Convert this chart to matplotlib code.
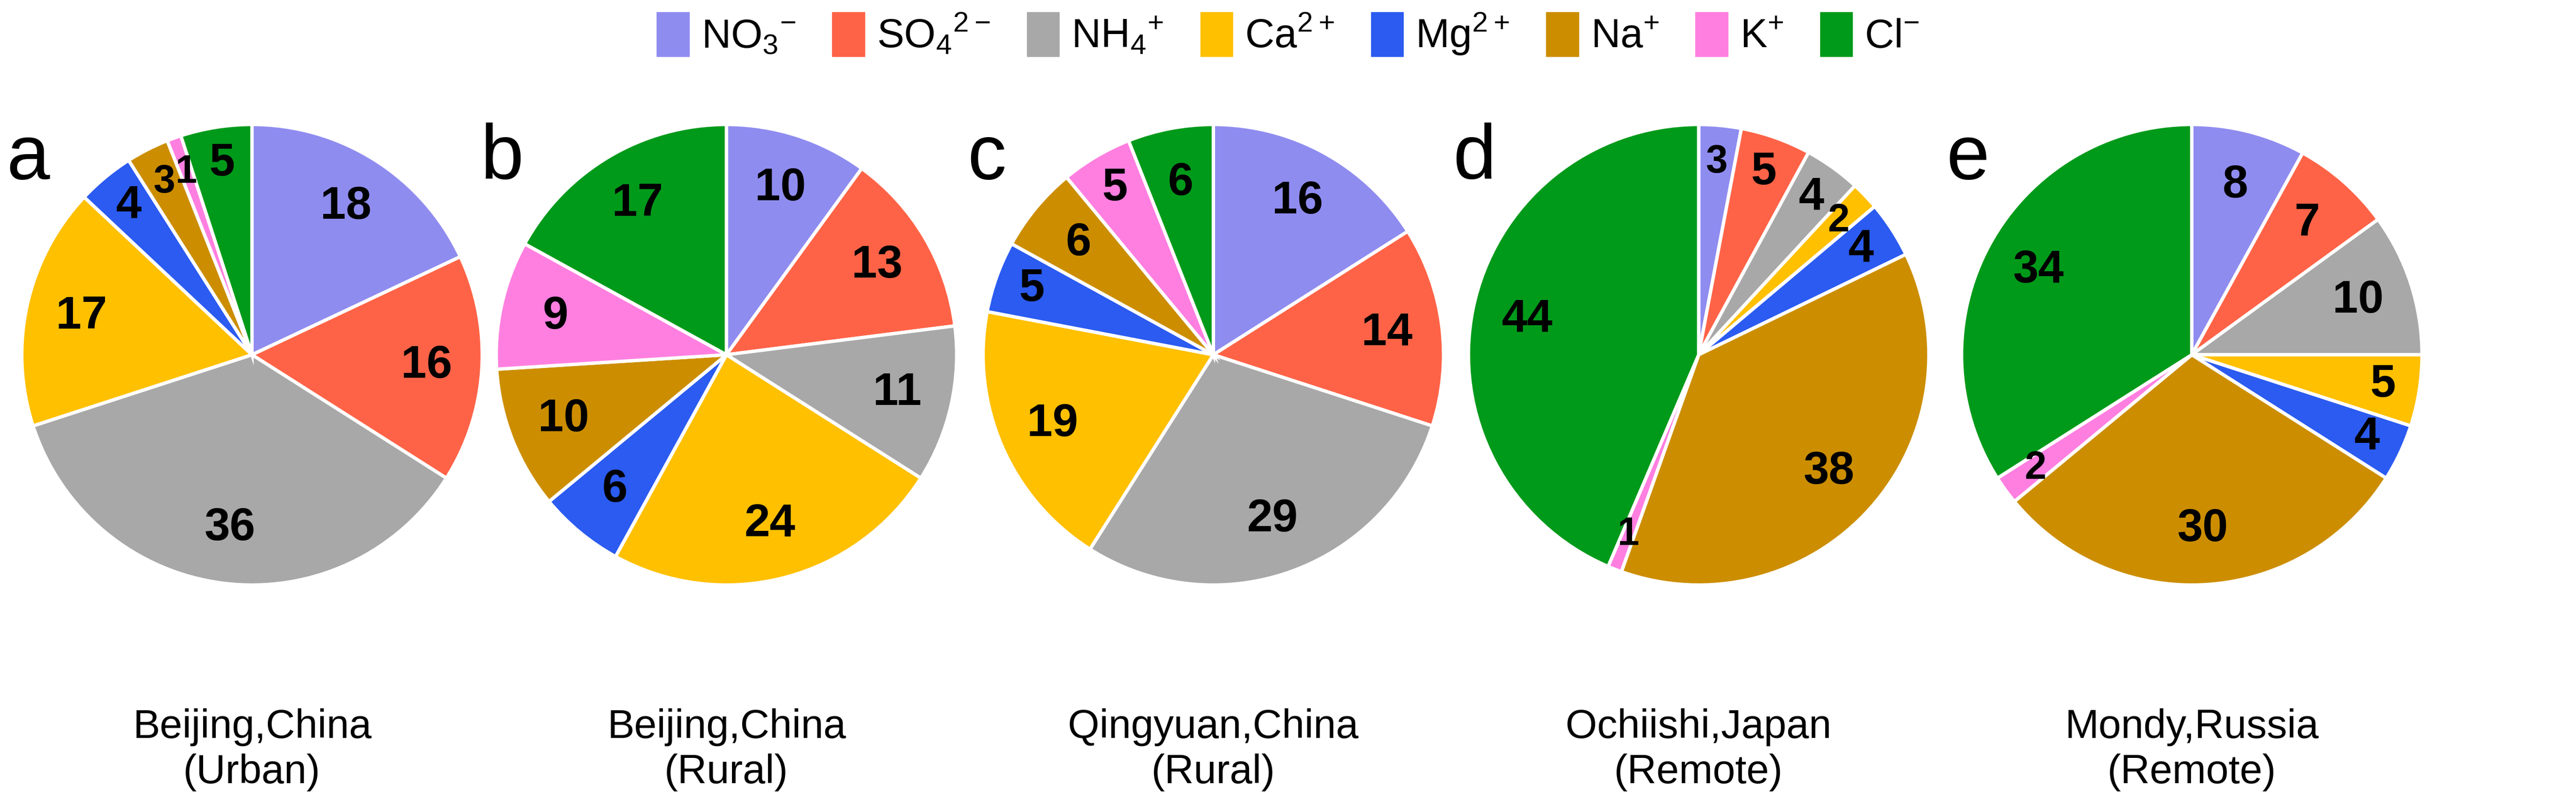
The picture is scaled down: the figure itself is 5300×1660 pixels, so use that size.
import matplotlib
matplotlib.use("Agg")
import matplotlib.pyplot as plt
import matplotlib.patches as mpatches

plt.rcParams["font.family"] = ["Liberation Sans", "DejaVu Sans"]
plt.rcParams["mathtext.fontset"] = "custom"
plt.rcParams["mathtext.rm"] = "Liberation Sans"

ions = [r"NO$_3$$^{-}$", r"SO$_4$$^{2-}$", r"NH$_4$$^{+}$", r"Ca$^{2+}$",
        r"Mg$^{2+}$", r"Na$^{+}$", r"K$^{+}$", r"Cl$^{-}$"]
colors = ["#8F8CF0", "#FF6347", "#A8A8A8", "#FFC000",
          "#2B5BF0", "#CC8E00", "#FF7FE0", "#009A1A"]

panel_letters = ["a", "b", "c", "d", "e"]
sites = ["Beijing,China\n(Urban)", "Beijing,China\n(Rural)", "Qingyuan,China\n(Rural)",
         "Ochiishi,Japan\n(Remote)", "Mondy,Russia\n(Remote)"]

beijing_urban = [18, 16, 36, 17, 4, 3, 1, 5]
beijing_rural = [10, 13, 11, 24, 6, 10, 9, 17]
qingyuan = [16, 14, 29, 19, 5, 6, 5, 6]
ochiishi = [3, 5, 4, 2, 4, 38, 1, 44]
mondy = [8, 7, 10, 5, 4, 30, 2, 34]
shares = [beijing_urban, beijing_rural, qingyuan, ochiishi, mondy]

W, H = 5300, 1660
fig = plt.figure(figsize=(W / 100, H / 100), dpi=100)

centers_x = [162, 467, 780, 1092, 1409]  # in 1656-wide units
scale = W / 1656
cy = H - 228 * scale
r = 148 * scale

for i, vals in enumerate(shares):
    cx = centers_x[i] * scale
    ax = fig.add_axes([(cx - r) / W, (cy - r) / H, 2 * r / W, 2 * r / H])
    wedges, texts = ax.pie(vals, colors=colors, startangle=90, counterclock=False,
                           labels=[str(v) for v in vals], labeldistance=0.76,
                           wedgeprops=dict(edgecolor="white", linewidth=5))
    for t, v in zip(texts, vals):
        if v <= 5:
            x, y = t.get_position()
            t.set_position((x * 0.84 / 0.76, y * 0.84 / 0.76))
        t.set_ha("center")
        t.set_va("center")
        t.set_fontsize(68 if v > 3 else 58)
        t.set_fontweight("bold")
    ax.set_xlim(-1.0, 1.0)
    ax.set_ylim(-1.0, 1.0)
    ax.set_aspect("equal")
    fig.text((cx - r - 10 * scale) / W, (H - 102 * scale) / H, panel_letters[i],
             fontsize=115, ha="left", va="center")
    fig.text(cx / W, (H - 482 * scale) / H, sites[i], fontsize=60,
             ha="center", va="center", linespacing=1.25)

handles = [mpatches.Patch(color=c, label=l) for c, l in zip(colors, ions)]
fig.legend(handles=handles, loc="center", bbox_to_anchor=(0.5, 1 - 22 * scale / H),
           ncol=8, frameon=False, fontsize=60, handlelength=0.8, handleheight=1.3,
           handletextpad=0.3, columnspacing=0.9)

fig.savefig("out.png", dpi=100)
